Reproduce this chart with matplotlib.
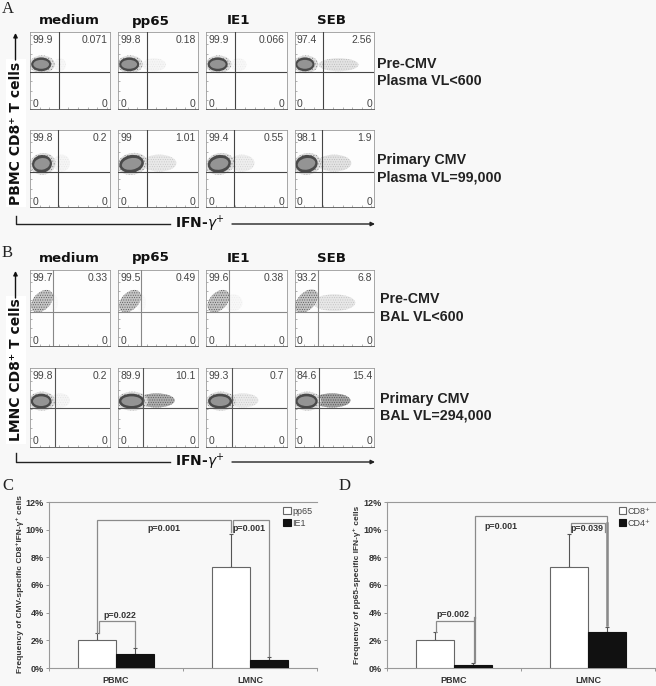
import matplotlib
matplotlib.use("Agg")
import matplotlib.pyplot as plt
from matplotlib.patches import Ellipse

plt.rcParams['hatch.linewidth'] = 0.4

W, H = 656, 686
BG = '#f8f8f8'
SANS = ['Liberation Sans', 'DejaVu Sans']

# flow plots
stimuli = ["medium", "pp65", "IE1", "SEB"]
upper_left = [["99.9", "99.8", "99.9", "97.4"],
              ["99.8", "99", "99.4", "98.1"],
              ["99.7", "99.5", "99.6", "93.2"],
              ["99.8", "89.9", "99.3", "84.6"]]
upper_right = [["0.071", "0.18", "0.066", "2.56"],
               ["0.2", "1.01", "0.55", "1.9"],
               ["0.33", "0.49", "0.38", "6.8"],
               ["0.2", "10.1", "0.7", "15.4"]]
gate_x = [[36, 36, 36, 36],
          [35, 36, 34, 34],
          [29, 29, 28, 29],
          [31, 31, 32, 30]]
gate_y = [48, 45, 45, 49]
blob_x = [[14, 14, 14, 13],
          [15, 17, 16, 15],
          [15, 15, 15, 15],
          [14, 17, 17, 15]]
blob_w = [[24, 24, 24, 23],
          [24, 30, 28, 27],
          [34, 34, 34, 36],
          [25, 31, 29, 27]]
blob_y = [58, 56, 59, 58]
blob_h = [17, 22, 22, 18]
blob_angle = [0, 12, 50, 0]
tail_end = [[45, 60, 50, 80],
            [50, 73, 60, 71],
            [35, 35, 45, 76],
            [50, 71, 65, 70]]
tail_shade = [[0.06, 0.08, 0.06, 0.25],
              [0.08, 0.2, 0.15, 0.25],
              [0.03, 0.03, 0.06, 0.22],
              [0.08, 0.8, 0.18, 0.9]]

row_notes = [["Pre-CMV", "Plasma VL<600"],
             ["Primary CMV", "Plasma VL=99,000"],
             ["Pre-CMV", "BAL VL<600"],
             ["Primary CMV", "BAL VL=294,000"]]

# bar charts
groups = ["PBMC", "LMNC"]
c_series = ["pp65", "IE1"]
c_pp65 = [2.0, 7.3]
c_ie1 = [1.0, 0.6]
c_pp65_err = [0.55, 2.4]
c_ie1_err = [0.45, 0.2]
d_series = ["CD8⁺", "CD4⁺"]
d_cd8 = [2.0, 7.3]
d_cd4 = [0.25, 2.6]
d_cd8_err = [0.6, 2.4]
d_cd4_err = [0.1, 0.4]
y_ticks = [0, 2, 4, 6, 8, 10, 12]

panel_left = [30, 118, 206.5, 294.5]
panel_width = 80
row_tops = [32, 130, 270, 368]
row_bottoms = [109, 207, 346, 447]
gate_grey = ['#444444', '#444444', '#888888', '#555555']
head_x = [69, 151, 239, 331]


def px_axes(fig, left, top, right, bottom, **kw):
    return fig.add_axes([left / W, 1 - bottom / H, (right - left) / W, (bottom - top) / H], **kw)


def draw_flow(fig, r, c):
    ax = px_axes(fig, panel_left[c], row_tops[r], panel_left[c] + panel_width, row_bottoms[r], facecolor='#fdfdfd')
    ax.set_xlim(0, 100)
    ax.set_ylim(0, 100)
    for s in ax.spines.values():
        s.set_color('#999999')
        s.set_linewidth(0.6)
    ax.spines['bottom'].set_color('#555555')
    ax.set_xticks(range(0, 101, 12))
    ax.set_yticks(range(0, 101, 12))
    ax.tick_params(length=1.5, width=0.4, color='#777777', direction='in', labelbottom=False, labelleft=False)

    ax.axvline(gate_x[r][c], color=gate_grey[r], lw=0.8, zorder=4)
    ax.axhline(gate_y[r], color=gate_grey[r], lw=0.8, zorder=4)

    cx, w = blob_x[r][c], blob_w[r][c]
    cy, h, ang = blob_y[r], blob_h[r], blob_angle[r]

    # spill over the gate
    end = tail_end[r][c]
    start = gate_x[r][c] - 6
    shade = tail_shade[r][c]
    ax.add_patch(Ellipse(((start + end) / 2, gate_y[r] + h / 2 + 1), end - start, h,
                         facecolor='#999999', edgecolor='#444444', hatch='.......', lw=0,
                         alpha=shade, zorder=1))

    if r == 2:
        ax.add_patch(Ellipse((cx, cy), w, h, angle=ang, facecolor='#c4c4c4', edgecolor='#555555',
                             hatch='.......', lw=0, zorder=2))
    else:
        ax.add_patch(Ellipse((cx + 1, cy), w + 8, h + 6, angle=ang, facecolor='#dddddd', edgecolor='#888888',
                             hatch='......', lw=0, zorder=2))
        ax.add_patch(Ellipse((cx, cy), w + 1, h + 1, angle=ang, facecolor='#4a4a4a', edgecolor='none', zorder=2))
        ax.add_patch(Ellipse((cx, cy), w * 0.82, h * 0.68, angle=ang, facecolor='#949494', edgecolor='none', zorder=3))

    txt = dict(fontsize=7.5, family=SANS, color='#444444', zorder=5)
    ax.text(3, 90, upper_left[r][c], ha='left', va='center', **txt)
    ax.text(97, 90, upper_right[r][c], ha='right', va='center', **txt)
    ax.text(3, 7, "0", ha='left', va='center', **txt)
    ax.text(97, 7, "0", ha='right', va='center', **txt)


def bracket(ax, x0, y0, x1, y1, top, lw=0.9):
    ax.plot([x0, x0, x1, x1], [y0, top, top, y1], color='#8a8a8a', lw=lw, zorder=5, solid_joinstyle='miter')


def draw_bars(fig, left, right, vals_a, vals_b, err_a, err_b, series, ylabel, ylabel_x, ylabel_y, ylabel_size):
    ax = px_axes(fig, left, 502, right, 668, facecolor=BG)
    x = [0, 1]
    bw = 0.286
    ax.bar([i - bw / 2 for i in x], vals_a, bw, color='white', edgecolor='#666666', lw=0.8, label=series[0], zorder=3)
    ax.bar([i + bw / 2 for i in x], vals_b, bw, color='#111111', edgecolor='#111111', lw=0.8, label=series[1], zorder=3)
    for xs, vals, errs in (([i - bw / 2 for i in x], vals_a, err_a), ([i + bw / 2 for i in x], vals_b, err_b)):
        ax.errorbar(xs, vals, yerr=[[0, 0], errs], fmt='none', ecolor='#555555', elinewidth=0.8,
                    capsize=1.2, capthick=0.8, zorder=2)
    ax.set_xlim(-0.5, 1.5)
    ax.set_ylim(0, 12)
    ax.set_yticks(y_ticks)
    ax.set_yticklabels([f"{v}%" for v in y_ticks], fontsize=6.5, fontweight='bold', family=SANS, color='#333333')
    ax.set_xticks([-0.5, 0.5, 1.5])
    ax.set_xticklabels([])
    ax.set_xticks(x, minor=True)
    ax.set_xticklabels(groups, minor=True, fontsize=6.5, fontweight='bold', family=SANS, color='#333333')
    ax.tick_params(axis='x', which='minor', length=0, pad=6)
    ax.tick_params(axis='both', which='major', length=2, width=0.6, color='#888888', pad=2)
    ax.spines['right'].set_visible(False)
    for s in ('top', 'left', 'bottom'):
        ax.spines[s].set_color('#999999')
        ax.spines[s].set_linewidth(0.8)
    fig.text(ylabel_x / W, 1 - ylabel_y / H, ylabel, rotation=90, ha='center', va='center',
             fontsize=ylabel_size, fontweight='bold', family=SANS, color='#333333')
    ax.legend(loc='upper right', frameon=False, handlelength=0.8, handleheight=0.8,
              handletextpad=0.2, labelspacing=0.35, borderaxespad=0.1,
              prop={'family': SANS, 'size': 6.5}, labelcolor='#444444')
    return ax


fig = plt.figure(figsize=(W / 100, H / 100), dpi=100, facecolor=BG)

for r in range(4):
    for c in range(4):
        draw_flow(fig, r, c)

# overlay in pixel coordinates for the labels and arrows
ov = fig.add_axes([0, 0, 1, 1], zorder=10)
ov.set_xlim(0, W)
ov.set_ylim(H, 0)
ov.axis('off')
ov.patch.set_alpha(0)

for x, y, s in [(2, 9, "A"), (2, 253, "B"), (2, 486, "C"), (339, 486, "D")]:
    ov.text(x, y, s, fontsize=12, family='Liberation Serif', ha='left', va='center', color='#222222')

for head_y in (21, 258):
    for c, s in enumerate(stimuli):
        ov.text(head_x[c], head_y, s, fontsize=9.6, fontweight='bold',
                ha='center', va='center', color='#111111')

note_y = [64, 81, 160, 177, 299, 317, 399, 416]
for i, lines in enumerate(row_notes):
    x = 377 if i < 2 else 380
    for j, s in enumerate(lines):
        ov.text(x, note_y[2 * i + j], s, fontsize=10.3, fontweight='bold', family=SANS,
                ha='left', va='center', color='#222222')

for label, text_c, y_top, y_bot, line_y in [
        ("PBMC CD8⁺ T cells", 133, 33, 216, 224),
        ("LMNC CD8⁺ T cells", 370, 271, 453, 462)]:
    ov.text(16, text_c, label, rotation=90, fontsize=10, fontweight='bold', ha='center', va='center',
            color='#111111', bbox=dict(facecolor='white', edgecolor='none', pad=2))
    ov.annotate("", xy=(15.5, y_top), xytext=(15.5, y_top + 27),
                arrowprops=dict(arrowstyle='-|>', color='#111111', lw=1, mutation_scale=6, shrinkA=0, shrinkB=0))
    ov.plot([15.5, 15.5, 170], [y_bot, line_y, line_y], color='#222222', lw=1)
    ov.text(200, line_y, "IFN-$\\gamma^{+}$", fontsize=10, fontweight='bold', ha='center', va='center', color='#111111')
    ov.annotate("", xy=(375, line_y), xytext=(232, line_y),
                arrowprops=dict(arrowstyle='-|>', color='#222222', lw=1, mutation_scale=6, shrinkA=0, shrinkB=0))

# panel C
ax_c = draw_bars(fig, 49, 317, c_pp65, c_ie1, c_pp65_err, c_ie1_err, c_series,
                 "Frequency of CMV-specific CD8⁺IFN-γ⁺ cells", 20, 584, 6.0)
bracket(ax_c, -0.143, 2.55, 0.857, 9.8, 10.7)
bracket(ax_c, 0.87, 9.8, 1.143, 0.85, 10.7)
bracket(ax_c, -0.125, 2.55, 0.143, 1.5, 3.4)
p_txt = dict(fontsize=6.4, fontweight='bold', family=SANS, ha='center', va='center', color='#333333', zorder=6)
ax_c.text(0.36, 10.05, "p=0.001", **p_txt)
ax_c.text(0.99, 10.1, "p=0.001", **p_txt)
ax_c.text(0.03, 3.8, "p=0.022", **p_txt)

# panel D
ax_d = draw_bars(fig, 387, 655, d_cd8, d_cd4, d_cd8_err, d_cd4_err, d_series,
                 "Frequency of pp65-specific IFN-γ⁺ cells", 357, 585, 6.0)
bracket(ax_d, 0.157, 3.6, 1.143, 3.1, 11.0)
ax_d.plot([0.157, 0.157], [0.4, 3.6], color='#8a8a8a', lw=1.6, zorder=5)
ax_d.plot([1.143, 1.143], [3.1, 10.5], color='#8a8a8a', lw=1.8, zorder=5)
bracket(ax_d, 0.87, 9.8, 1.13, 9.8, 10.5)
bracket(ax_d, -0.135, 2.6, 0.145, 3.4, 3.4)
ax_d.text(0.35, 10.2, "p=0.001", **p_txt)
ax_d.text(0.99, 10.1, "p=0.039", **p_txt)
ax_d.text(-0.01, 3.85, "p=0.002", **p_txt)

fig.savefig("out.png", dpi=100, facecolor=BG)
